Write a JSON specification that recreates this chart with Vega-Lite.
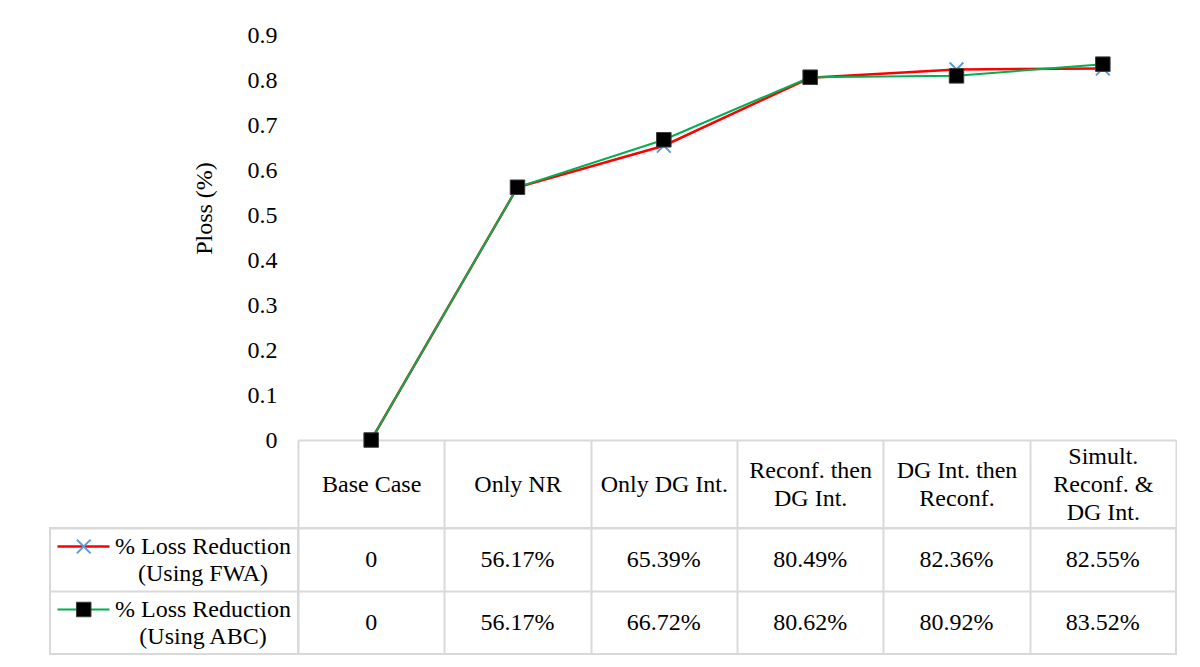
{
  "$schema": "https://vega.github.io/schema/vega-lite/v6.json",
  "padding": {"left": 49, "top": 23, "right": 0, "bottom": 0},
  "background": "#ffffff",
  "datasets": {
    "loss": [
      {"case": "Base Case", "method": "FWA", "value": 0},
      {"case": "Only NR", "method": "FWA", "value": 0.5617},
      {"case": "Only DG Int.", "method": "FWA", "value": 0.6539},
      {"case": "Reconf. then DG Int.", "method": "FWA", "value": 0.8049},
      {"case": "DG Int. then Reconf.", "method": "FWA", "value": 0.8236},
      {"case": "Simult. Reconf. & DG Int.", "method": "FWA", "value": 0.8255},
      {"case": "Base Case", "method": "ABC", "value": 0},
      {"case": "Only NR", "method": "ABC", "value": 0.5617},
      {"case": "Only DG Int.", "method": "ABC", "value": 0.6672},
      {"case": "Reconf. then DG Int.", "method": "ABC", "value": 0.8062},
      {"case": "DG Int. then Reconf.", "method": "ABC", "value": 0.8092},
      {"case": "Simult. Reconf. & DG Int.", "method": "ABC", "value": 0.8352}
    ]
  },
  "columns": 2,
  "spacing": {"row": 88, "column": 0},
  "bounds": "flush",
  "align": "each",
  "concat": [
    {
      "width": 248,
      "height": 405,
      "data": {"values": []},
      "mark": "point",
      "encoding": {}
    },
    {
      "width": 878,
      "height": 405,
      "data": {"name": "loss"},
      "encoding": {
        "x": {
          "field": "case",
          "type": "nominal",
          "sort": ["Base Case", "Only NR", "Only DG Int.", "Reconf. then DG Int.", "DG Int. then Reconf.", "Simult. Reconf. & DG Int."],
          "scale": {"paddingInner": 0, "paddingOuter": 0},
          "axis": {
            "title": null,
            "orient": "bottom",
            "domain": true,
            "domainColor": "#d9d9d9",
            "domainWidth": 2,
            "ticks": true,
            "tickBand": "extent",
            "tickSize": 88,
            "tickColor": "#d9d9d9",
            "tickWidth": 2,
            "labelAngle": 0,
            "labelPadding": {
              "condition": [
                {"test": "datum.value == 'Simult. Reconf. & DG Int.'", "value": -72},
                {"test": "datum.value == 'Reconf. then DG Int.' || datum.value == 'DG Int. then Reconf.'", "value": -58}
              ],
              "value": -44
            },
            "labelBaseline": "middle",
            "labelAlign": "center",
            "labelFont": "Liberation Serif",
            "labelFontSize": 24,
            "labelLineHeight": 28,
            "labelColor": "#000000",
            "labelLimit": 0,
            "labelOverlap": false,
            "labelExpr": "datum.label == 'Reconf. then DG Int.' ? ['Reconf. then', 'DG Int.'] : datum.label == 'DG Int. then Reconf.' ? ['DG Int. then', 'Reconf.'] : datum.label == 'Simult. Reconf. & DG Int.' ? ['Simult.', 'Reconf. &', 'DG Int.'] : datum.label"
          }
        },
        "y": {
          "field": "value",
          "type": "quantitative",
          "scale": {"domain": [0, 0.9], "nice": false},
          "axis": {
            "values": [0, 0.1, 0.2, 0.3, 0.4, 0.5, 0.6, 0.7, 0.8, 0.9],
            "format": "~g",
            "domain": false,
            "ticks": false,
            "grid": false,
            "labelPadding": 21,
            "labelFont": "Liberation Serif",
            "labelFontSize": 24,
            "labelColor": "#000000",
            "title": "Ploss (%)",
            "titleFont": "Liberation Serif",
            "titleFontSize": 24,
            "titleFontWeight": "normal",
            "titleColor": "#000000",
            "titlePadding": 31,
            "titleY": 173
          }
        }
      },
      "layer": [
        {
          "transform": [{"filter": "datum.method == 'FWA'"}],
          "mark": {"type": "line", "color": "#ff0000", "strokeWidth": 2.5}
        },
        {
          "transform": [{"filter": "datum.method == 'FWA'"}],
          "mark": {"type": "point", "shape": "M-1,-1L1,1M-1,1L1,-1", "filled": false, "stroke": "#5b9bd5", "strokeWidth": 2, "size": 190, "opacity": 1}
        },
        {
          "transform": [{"filter": "datum.method == 'ABC'"}],
          "mark": {"type": "line", "color": "#00b050", "strokeWidth": 2}
        },
        {
          "transform": [{"filter": "datum.method == 'ABC'"}],
          "mark": {"type": "point", "shape": "square", "filled": true, "fill": "#000000", "stroke": "#3a3a3a", "strokeWidth": 1, "size": 210, "opacity": 1}
        }
      ]
    },
    {
      "width": 248,
      "height": 126,
      "view": {"stroke": "#d9d9d9", "strokeWidth": 2},
      "data": {"name": "loss"},
      "transform": [
        {"filter": "datum.case == 'Base Case'"},
        {"calculate": "['% Loss Reduction', '(Using ' + datum.method + ')']", "as": "legendText"}
      ],
      "encoding": {
        "y": {
          "field": "method",
          "type": "nominal",
          "sort": ["FWA", "ABC"],
          "scale": {"paddingInner": 0, "paddingOuter": 0},
          "axis": {"grid": true, "gridColor": "#d9d9d9", "gridWidth": 2, "tickBand": "extent", "labels": false, "ticks": false, "domain": false, "title": null}
        }
      },
      "layer": [
        {
          "transform": [{"filter": "datum.method == 'FWA'"}],
          "mark": {"type": "rule", "color": "#ff0000", "strokeWidth": 2.5, "yOffset": -13},
          "encoding": {
            "x": {"datum": 0.03, "type": "quantitative", "scale": {"domain": [0, 1], "nice": false, "zero": false}, "axis": null},
            "x2": {"datum": 0.24}
          }
        },
        {
          "transform": [{"filter": "datum.method == 'FWA'"}],
          "mark": {"type": "point", "shape": "M-1,-1L1,1M-1,1L1,-1", "filled": false, "stroke": "#5b9bd5", "strokeWidth": 2, "size": 190, "opacity": 1, "yOffset": -13},
          "encoding": {"x": {"datum": 0.136, "type": "quantitative"}}
        },
        {
          "transform": [{"filter": "datum.method == 'ABC'"}],
          "mark": {"type": "rule", "color": "#00b050", "strokeWidth": 2, "yOffset": -13},
          "encoding": {
            "x": {"datum": 0.03, "type": "quantitative"},
            "x2": {"datum": 0.24}
          }
        },
        {
          "transform": [{"filter": "datum.method == 'ABC'"}],
          "mark": {"type": "point", "shape": "square", "filled": true, "fill": "#000000", "stroke": "#3a3a3a", "strokeWidth": 1, "size": 210, "opacity": 1, "yOffset": -13},
          "encoding": {"x": {"datum": 0.136, "type": "quantitative"}}
        },
        {
          "mark": {"type": "text", "font": "Liberation Serif", "fontSize": 24, "lineHeight": 27, "color": "#000000", "align": "center", "baseline": "middle", "dy": -13},
          "encoding": {
            "x": {"datum": 0.617, "type": "quantitative"},
            "text": {"field": "legendText"}
          }
        }
      ]
    },
    {
      "width": 878,
      "height": 126,
      "view": {"stroke": "#d9d9d9", "strokeWidth": 2},
      "data": {"name": "loss"},
      "transform": [
        {"calculate": "datum.value == 0 ? '0' : format(datum.value, '.2%')", "as": "label"}
      ],
      "mark": {"type": "text", "font": "Liberation Serif", "fontSize": 24, "color": "#000000", "align": "center", "baseline": "middle"},
      "encoding": {
        "x": {
          "field": "case",
          "type": "nominal",
          "sort": ["Base Case", "Only NR", "Only DG Int.", "Reconf. then DG Int.", "DG Int. then Reconf.", "Simult. Reconf. & DG Int."],
          "scale": {"paddingInner": 0, "paddingOuter": 0},
          "axis": {"grid": true, "gridColor": "#d9d9d9", "gridWidth": 2, "tickBand": "extent", "labels": false, "ticks": false, "domain": false, "title": null}
        },
        "y": {
          "field": "method",
          "type": "nominal",
          "sort": ["FWA", "ABC"],
          "scale": {"paddingInner": 0, "paddingOuter": 0},
          "axis": {"grid": true, "gridColor": "#d9d9d9", "gridWidth": 2, "tickBand": "extent", "labels": false, "ticks": false, "domain": false, "title": null}
        },
        "text": {"field": "label"}
      }
    }
  ],
  "config": {
    "view": {"stroke": null},
    "font": "Liberation Serif"
  }
}
